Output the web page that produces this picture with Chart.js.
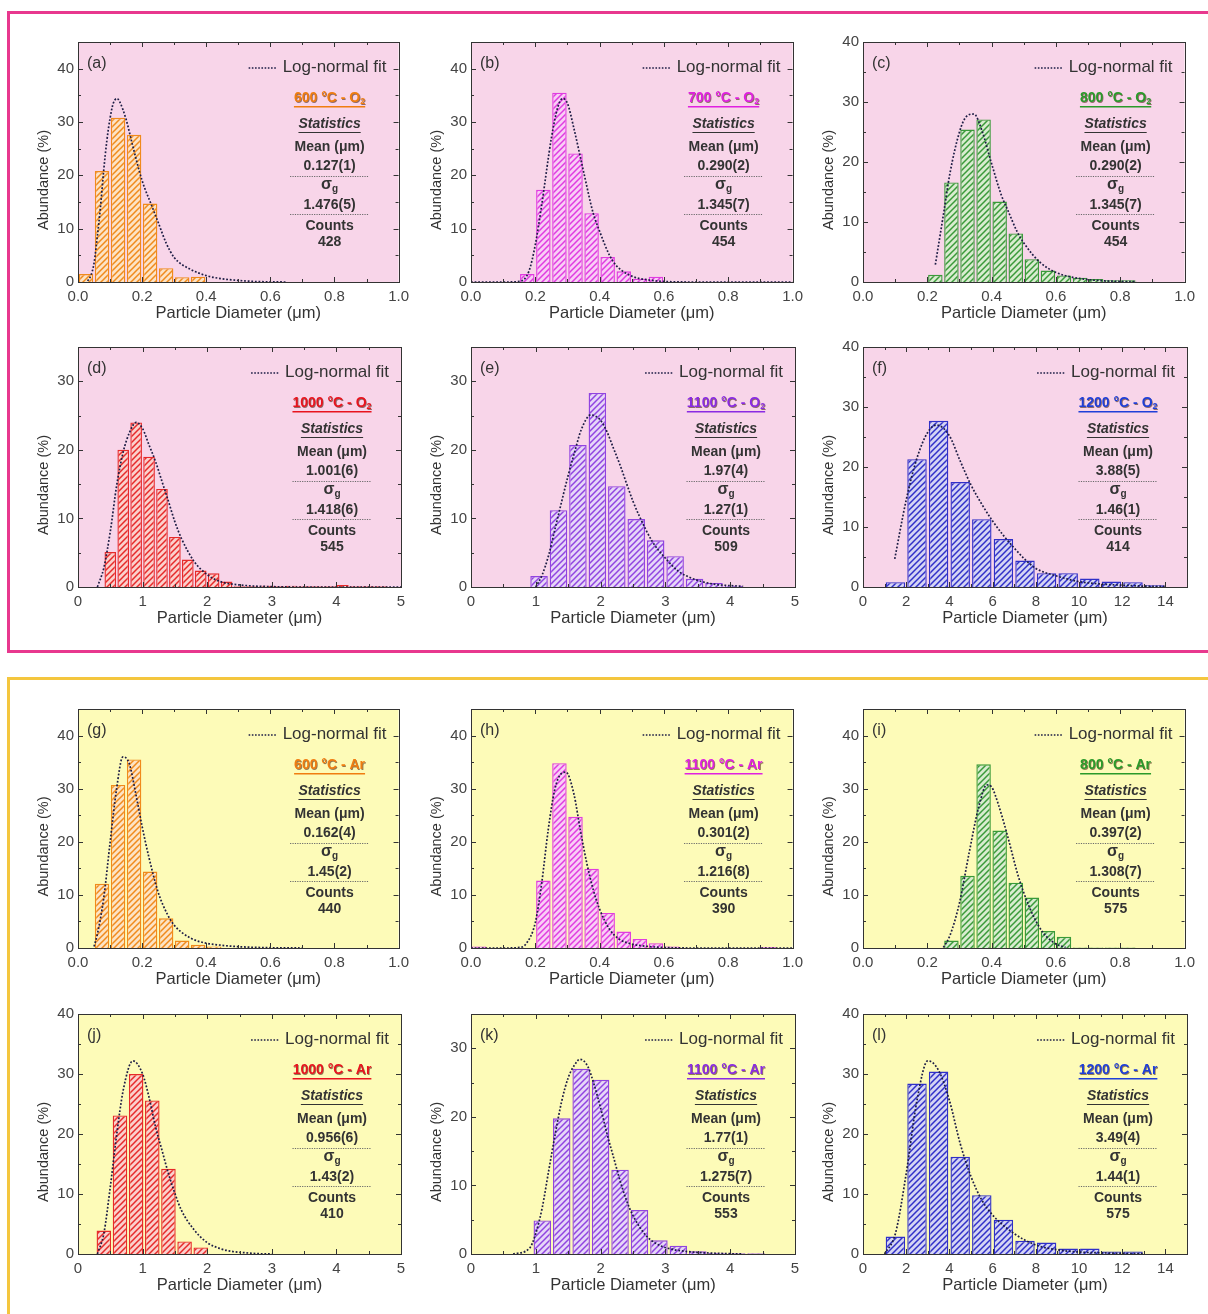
<!DOCTYPE html>
<html>
<head>
<meta charset="utf-8">
<title>Particle size distributions</title>
<style>
  html, body { margin: 0; padding: 0; background: #fff; width: 1208px; height: 1314px; overflow: hidden; position: relative; }
  .frame { position: absolute; box-sizing: border-box; }
  #frameO2 { left: 7px; top: 11px; width: 1230px; height: 642px; border: 3px solid #e8388e; }
  #frameAr { left: 7px; top: 677px; width: 1230px; height: 700px; border: 3px solid #f4c63e; }
  canvas { position: absolute; }
</style>
</head>
<body>
<div id="frameO2" class="frame"></div>
<div id="frameAr" class="frame"></div>
<script src="https://cdn.jsdelivr.net/npm/chart.js@4.4.1/dist/chart.umd.min.js"></script>
<script>
const FONT = "'Liberation Sans', Arial, Helvetica, sans-serif";
Chart.defaults.font.family = FONT;

// ---------- (a) 600 °C - O2 ----------
const binsA  = [0.025, 0.075, 0.125, 0.175, 0.225, 0.275, 0.325, 0.375];
const abundA = [1.5, 20.8, 30.8, 27.6, 14.7, 2.6, 0.9, 1.0];
const fitXA  = [0.03, 0.04, 0.05, 0.06, 0.07, 0.08, 0.09, 0.10, 0.11, 0.122, 0.13, 0.15, 0.17, 0.20, 0.23, 0.25, 0.275, 0.30, 0.35, 0.40, 0.45, 0.50, 0.55, 0.60, 0.65];
const fitYA  = [0.2, 1.2, 3.5, 8.4, 14.0, 20.8, 26.5, 30.7, 33.5, 34.4, 33.8, 30.5, 25.7, 19.0, 14.3, 11.2, 7.3, 4.6, 2.4, 1.2, 0.6, 0.3, 0.1, 0.03, 0];

// ---------- (b) 700 °C - O2 ----------
const binsB  = [0.175, 0.225, 0.275, 0.325, 0.375, 0.425, 0.475, 0.525, 0.575];
const abundB = [1.5, 17.3, 35.5, 24.1, 12.9, 4.7, 2.0, 0.6, 1.0];
const fitXB  = [0.0, 0.10, 0.15, 0.18, 0.20, 0.22, 0.25, 0.27, 0.285, 0.30, 0.32, 0.35, 0.38, 0.40, 0.43, 0.45, 0.50, 0.55, 0.60, 0.70, 0.80, 0.90, 1.0];
const fitYB  = [0, 0, 0.1, 2.0, 7.0, 14.5, 27.0, 32.8, 34.4, 33.5, 28.8, 20.7, 12.9, 9.5, 5.1, 3.2, 1.1, 0.4, 0.1, 0, 0, 0, 0];

// ---------- (c) 800 °C - O2 ----------
const binsC  = [0.225, 0.275, 0.325, 0.375, 0.425, 0.475, 0.525, 0.575, 0.625, 0.675, 0.725, 0.775, 0.825];
const abundC = [1.2, 16.6, 25.4, 27.1, 13.4, 8.1, 3.8, 1.9, 1.1, 0.7, 0.5, 0.3, 0.3];
const fitXC  = [0.225, 0.25, 0.27, 0.30, 0.32, 0.345, 0.37, 0.40, 0.43, 0.45, 0.48, 0.50, 0.55, 0.60, 0.65, 0.70, 0.75, 0.80, 0.85];
const fitYC  = [2.9, 11.2, 18.0, 25.0, 27.5, 28.0, 25.2, 19.7, 14.5, 12.0, 8.3, 6.5, 3.3, 1.6, 0.8, 0.4, 0.2, 0.1, 0.05];

// ---------- (d) 1000 °C - O2 ----------
const binsD  = [0.5, 0.7, 0.9, 1.1, 1.3, 1.5, 1.7, 1.9, 2.1, 2.3, 2.5, 2.7, 2.9, 3.1, 3.3, 3.5, 3.7, 3.9, 4.1, 4.3, 4.5, 4.7];
const abundD = [5.1, 20.0, 24.0, 19.0, 14.3, 7.3, 4.0, 2.4, 2.0, 0.8, 0.1, 0.1, 0.2, 0.1, 0.2, 0.1, 0.1, 0.1, 0.3, 0.1, 0.1, 0.1];
const fitXD  = [0.3, 0.4, 0.5, 0.6, 0.7, 0.8, 0.9, 1.0, 1.1, 1.2, 1.3, 1.4, 1.5, 1.6, 1.8, 2.0, 2.2, 2.5, 3.0, 3.5, 4.0, 5.0];
const fitYD  = [0, 2.8, 8.1, 14.9, 19.7, 22.6, 24.0, 23.1, 20.7, 18.3, 15.4, 12.5, 9.5, 7.1, 3.7, 1.8, 0.8, 0.3, 0.05, 0, 0, 0];

// ---------- (e) 1100 °C - O2 ----------
const binsE  = [1.05, 1.35, 1.65, 1.95, 2.25, 2.55, 2.85, 3.15, 3.45, 3.75, 4.05];
const abundE = [1.6, 11.2, 20.7, 28.3, 14.7, 9.9, 6.8, 4.5, 1.2, 0.6, 0.2];
const fitXE  = [1.0, 1.1, 1.2, 1.3, 1.4, 1.5, 1.6, 1.7, 1.85, 2.0, 2.1, 2.2, 2.3, 2.4, 2.5, 2.6, 2.8, 3.0, 3.2, 3.4, 3.6, 3.8, 4.0, 4.2];
const fitYE  = [0, 1.8, 4.7, 8.6, 12.5, 16.3, 19.7, 22.9, 25.1, 24.3, 22.6, 20.2, 17.8, 15.1, 12.5, 10.3, 6.6, 4.2, 2.3, 1.3, 0.7, 0.35, 0.2, 0.1];

// ---------- (f) 1200 °C - O2 ----------
const binsF  = [1.5, 2.5, 3.5, 4.5, 5.5, 6.5, 7.5, 8.5, 9.5, 10.5, 11.5, 12.5, 13.5];
const abundF = [0.8, 21.3, 27.7, 17.5, 11.3, 8.0, 4.4, 2.3, 2.3, 1.4, 0.9, 0.8, 0.3];
const fitXF  = [1.47, 2.0, 2.5, 3.0, 3.4, 4.0, 4.5, 5.0, 5.5, 6.0, 6.5, 7.0, 7.5, 8.0, 9.0, 10.0, 11.0, 12.0, 13.0, 14.0];
const fitYF  = [4.7, 14.5, 21.5, 25.8, 27.0, 25.2, 21.0, 17.0, 13.8, 11.0, 8.6, 6.5, 4.6, 3.1, 1.8, 0.9, 0.5, 0.3, 0.15, 0.1];

// ---------- (g) 600 °C - Ar ----------
const binsG  = [0.075, 0.125, 0.175, 0.225, 0.275, 0.325, 0.375, 0.425];
const abundG = [12.1, 30.7, 35.5, 14.4, 5.6, 1.4, 0.6, 0.3];
const fitXG  = [0.05, 0.06, 0.08, 0.10, 0.12, 0.14, 0.16, 0.18, 0.20, 0.22, 0.25, 0.28, 0.30, 0.35, 0.40, 0.45, 0.50, 0.60, 0.70];
const fitYG  = [0.3, 2.5, 9.3, 19.8, 29.8, 36.0, 34.7, 29.1, 22.9, 17.4, 10.5, 6.2, 4.3, 1.9, 0.9, 0.5, 0.25, 0.05, 0];

// ---------- (h) 1100 °C - Ar ----------
const binsH  = [0.025, 0.225, 0.275, 0.325, 0.375, 0.425, 0.475, 0.525, 0.575, 0.625, 0.925];
const abundH = [0.3, 12.7, 34.8, 24.7, 14.9, 6.6, 3.1, 1.7, 0.9, 0.3, 0.2];
const fitXH  = [0.0, 0.10, 0.15, 0.17, 0.20, 0.22, 0.24, 0.26, 0.28, 0.295, 0.32, 0.34, 0.36, 0.38, 0.40, 0.43, 0.46, 0.50, 0.55, 0.60, 0.70, 0.80, 0.90, 1.0];
const fitYH  = [0, 0, 0.1, 0.7, 4.8, 12.3, 22.2, 29.7, 32.8, 33.1, 29.0, 22.2, 16.0, 11.0, 7.3, 3.6, 1.7, 0.75, 0.3, 0.1, 0, 0, 0, 0];

// ---------- (i) 800 °C - Ar ----------
const binsI  = [0.275, 0.325, 0.375, 0.425, 0.475, 0.525, 0.575, 0.625, 0.675, 0.725, 0.775, 0.825];
const abundI = [1.4, 13.6, 34.6, 22.1, 12.3, 9.5, 3.2, 2.1, 0.1, 0.1, 0.1, 0.1];
const fitXI  = [0.25, 0.27, 0.30, 0.33, 0.36, 0.385, 0.40, 0.42, 0.45, 0.48, 0.50, 0.53, 0.56, 0.60, 0.63];
const fitYI  = [0.1, 2.3, 8.5, 17.9, 26.6, 30.7, 30.3, 27.2, 21.0, 14.1, 10.4, 6.0, 2.9, 0.75, 0.1];

// ---------- (j) 1000 °C - Ar ----------
const binsJ  = [0.4, 0.65, 0.9, 1.15, 1.4, 1.65, 1.9];
const abundJ = [3.9, 23.1, 30.0, 25.6, 14.2, 2.1, 1.1];
const fitXJ  = [0.3, 0.4, 0.5, 0.6, 0.7, 0.85, 1.0, 1.1, 1.2, 1.3, 1.4, 1.5, 1.6, 1.8, 2.0, 2.2, 2.4, 2.6, 2.8, 3.0];
const fitYJ  = [0, 3.4, 11.2, 20.0, 27.3, 32.2, 30.0, 26.1, 21.2, 17.3, 13.4, 10.1, 7.3, 4.0, 1.9, 0.9, 0.4, 0.2, 0.05, 0];

// ---------- (k) 1100 °C - Ar ----------
const binsK  = [1.1, 1.4, 1.7, 2.0, 2.3, 2.6, 2.9, 3.2, 3.5, 3.8, 4.1, 4.4];
const abundK = [4.9, 19.8, 27.0, 25.4, 12.3, 6.4, 2.0, 1.2, 0.4, 0.2, 0.1, 0.1];
const fitXK  = [0.65, 0.9, 1.0, 1.1, 1.2, 1.3, 1.4, 1.5, 1.6, 1.68, 1.8, 1.9, 2.0, 2.1, 2.2, 2.3, 2.4, 2.5, 2.7, 2.9, 3.1, 3.4, 3.8, 4.2];
const fitYK  = [0, 0.8, 3.0, 6.8, 12.2, 17.5, 22.3, 25.7, 27.6, 28.4, 27.4, 24.7, 21.3, 17.5, 14.1, 10.7, 7.8, 5.6, 2.7, 1.3, 0.7, 0.3, 0.1, 0];

// ---------- (l) 1200 °C - Ar ----------
const binsL  = [1.5, 2.5, 3.5, 4.5, 5.5, 6.5, 7.5, 8.5, 9.5, 10.5, 11.5, 12.5];
const abundL = [2.9, 28.4, 30.4, 16.2, 9.8, 5.7, 2.2, 1.9, 0.9, 0.9, 0.4, 0.4];
const fitXL  = [1.0, 1.5, 2.0, 2.5, 3.0, 3.5, 4.0, 4.5, 5.0, 5.5, 6.0, 7.0, 8.0, 9.0, 10.0, 11.0, 12.0, 13.0];
const fitYL  = [0, 3.4, 13.4, 25.6, 32.2, 30.6, 25.6, 18.4, 12.9, 9.0, 6.5, 3.4, 1.5, 0.7, 0.33, 0.2, 0.1, 0.05];

// statistics boxes: [mean, sigma_g, counts]
const statsA = ['0.127(1)', '1.476(5)', '428'];
const statsB = ['0.290(2)', '1.345(7)', '454'];
const statsC = ['0.290(2)', '1.345(7)', '454'];
const statsD = ['1.001(6)', '1.418(6)', '545'];
const statsE = ['1.97(4)',  '1.27(1)',  '509'];
const statsF = ['3.88(5)',  '1.46(1)',  '414'];
const statsG = ['0.162(4)', '1.45(2)',  '440'];
const statsH = ['0.301(2)', '1.216(8)', '390'];
const statsI = ['0.397(2)', '1.308(7)', '575'];
const statsJ = ['0.956(6)', '1.43(2)',  '410'];
const statsK = ['1.77(1)',  '1.275(7)', '553'];
const statsL = ['3.49(4)',  '1.44(1)',  '575'];

// x-axis ranges: [max, major step, decimals]
const axisSub  = [1, 0.2, 1];
const axisMid  = [5, 1, 0];
const axisWide = [15, 2, 0];

// series palette: [line/border, pale hatch ground, title text]
const ORANGE = ['#f08a1c', '#fde3c4', '#f07d10'];
const MAGENTA = ['#e03ce0', '#f9cdf6', '#e020e0'];
const GREEN = ['#3a9a3a', '#d8eccf', '#2a9a2a'];
const RED = ['#e62a2a', '#fbd0cc', '#e8141e'];
const PURPLE = ['#9044e0', '#e6d6f8', '#8a2be2'];
const BLUE = ['#3030c8', '#d4d4f4', '#1f3fd8'];

const PINK_BG = '#f8d5e9';
const YELLOW_BG = '#fdfbb8';

const panels = [
  { tag: '(a)', col: 0, row: 0, bins: binsA, abund: abundA, fitX: fitXA, fitY: fitYA, axis: axisSub,  yMax: 45, pal: ORANGE,  cond: ['600 °C - O', '2'],  stats: statsA, bg: PINK_BG },
  { tag: '(b)', col: 1, row: 0, bins: binsB, abund: abundB, fitX: fitXB, fitY: fitYB, axis: axisSub,  yMax: 45, pal: MAGENTA, cond: ['700 °C - O', '2'],  stats: statsB, bg: PINK_BG },
  { tag: '(c)', col: 2, row: 0, bins: binsC, abund: abundC, fitX: fitXC, fitY: fitYC, axis: axisSub,  yMax: 40, pal: GREEN,   cond: ['800 °C - O', '2'],  stats: statsC, bg: PINK_BG },
  { tag: '(d)', col: 0, row: 1, bins: binsD, abund: abundD, fitX: fitXD, fitY: fitYD, axis: axisMid,  yMax: 35, pal: RED,     cond: ['1000 °C - O', '2'], stats: statsD, bg: PINK_BG },
  { tag: '(e)', col: 1, row: 1, bins: binsE, abund: abundE, fitX: fitXE, fitY: fitYE, axis: axisMid,  yMax: 35, pal: PURPLE,  cond: ['1100 °C - O', '2'], stats: statsE, bg: PINK_BG },
  { tag: '(f)', col: 2, row: 1, bins: binsF, abund: abundF, fitX: fitXF, fitY: fitYF, axis: axisWide, yMax: 40, pal: BLUE,    cond: ['1200 °C - O', '2'], stats: statsF, bg: PINK_BG },
  { tag: '(g)', col: 0, row: 2, bins: binsG, abund: abundG, fitX: fitXG, fitY: fitYG, axis: axisSub,  yMax: 45, pal: ORANGE,  cond: ['600 °C - Ar', ''],  stats: statsG, bg: YELLOW_BG },
  { tag: '(h)', col: 1, row: 2, bins: binsH, abund: abundH, fitX: fitXH, fitY: fitYH, axis: axisSub,  yMax: 45, pal: MAGENTA, cond: ['1100 °C - Ar', ''], stats: statsH, bg: YELLOW_BG },
  { tag: '(i)', col: 2, row: 2, bins: binsI, abund: abundI, fitX: fitXI, fitY: fitYI, axis: axisSub,  yMax: 45, pal: GREEN,   cond: ['800 °C - Ar', ''],  stats: statsI, bg: YELLOW_BG },
  { tag: '(j)', col: 0, row: 3, bins: binsJ, abund: abundJ, fitX: fitXJ, fitY: fitYJ, axis: axisMid,  yMax: 40, pal: RED,     cond: ['1000 °C - Ar', ''], stats: statsJ, bg: YELLOW_BG },
  { tag: '(k)', col: 1, row: 3, bins: binsK, abund: abundK, fitX: fitXK, fitY: fitYK, axis: axisMid,  yMax: 35, pal: PURPLE,  cond: ['1100 °C - Ar', ''], stats: statsK, bg: YELLOW_BG },
  { tag: '(l)', col: 2, row: 3, bins: binsL, abund: abundL, fitX: fitXL, fitY: fitYL, axis: axisWide, yMax: 40, pal: BLUE,    cond: ['1200 °C - Ar', ''], stats: statsL, bg: YELLOW_BG }
];

// plot-area grid on the page
const colLeft   = [78, 471, 863];
const colRight  = [401, 795, 1187];
const rowTop    = [41, 346, 708, 1013];
const rowBottom = [282, 587, 948, 1254];
const Y_AXIS_W = 60, X_AXIS_H = 44, PAD_T = 12, PAD_R = 14;

// diagonal "////" hatch on a pale ground
function hatch(line, ground) {
  const s = 6;
  const c = document.createElement('canvas');
  c.width = s; c.height = s;
  const g = c.getContext('2d');
  g.fillStyle = ground; g.fillRect(0, 0, s, s);
  g.strokeStyle = line; g.lineWidth = 1.5;
  g.beginPath();
  g.moveTo(-1, s + 1); g.lineTo(s + 1, -1);
  g.moveTo(-1, 1); g.lineTo(1, -1);
  g.moveTo(s - 1, s + 1); g.lineTo(s + 1, s - 1);
  g.stroke();
  return g.createPattern(c, 'repeat');
}

function tickSet(scale) {
  const majors = scale.ticks.map(t => t.value);
  const step = majors.length > 1 ? majors[1] - majors[0] : scale.max - scale.min;
  const minors = [];
  majors.forEach(v => { const m = v + step / 2; if (m < scale.max - 1e-9) minors.push(m); });
  return { majors, minors };
}

function centeredSub(ctx, main, sub, cx, y, mainFont, subFont, subDy) {
  ctx.font = mainFont; const w1 = ctx.measureText(main).width;
  ctx.font = subFont; const w2 = sub ? ctx.measureText(sub).width : 0;
  const x0 = cx - (w1 + w2) / 2;
  ctx.font = mainFont; ctx.fillText(main, x0, y);
  if (sub) { ctx.font = subFont; ctx.fillText(sub, x0 + w1, y + subDy); }
  return { x0, w: w1 + w2 };
}

function dottedRule(ctx, cx, y, w) {
  ctx.save();
  ctx.strokeStyle = '#6a6a6a'; ctx.lineWidth = 1; ctx.setLineDash([1.2, 1.2]);
  ctx.beginPath(); ctx.moveTo(cx - w / 2, y + 0.5); ctx.lineTo(cx + w / 2, y + 0.5); ctx.stroke();
  ctx.restore();
}

const panelDeco = {
  id: 'panelDeco',
  beforeDraw(chart, _args, o) {
    const { ctx, chartArea: a } = chart;
    ctx.save();
    ctx.fillStyle = o.bg;
    ctx.fillRect(a.left, a.top, a.right - a.left, a.bottom - a.top);
    ctx.restore();
  },
  afterDraw(chart, _args, o) {
    const { ctx, chartArea: a } = chart;
    const xs = chart.scales.x, ys = chart.scales.y;
    ctx.save();

    // frame and inward ticks on all four sides
    ctx.strokeStyle = '#333'; ctx.lineWidth = 1;
    ctx.strokeRect(Math.round(a.left) + 0.5, Math.round(a.top) + 0.5, Math.round(a.right - a.left), Math.round(a.bottom - a.top));
    const tx = tickSet(xs), ty = tickSet(ys);
    ctx.beginPath();
    const xt = (v, len) => { const p = Math.round(xs.getPixelForValue(v)) + 0.5;
      ctx.moveTo(p, a.bottom); ctx.lineTo(p, a.bottom - len); ctx.moveTo(p, a.top); ctx.lineTo(p, a.top + len); };
    const yt = (v, len) => { const p = Math.round(ys.getPixelForValue(v)) + 0.5;
      ctx.moveTo(a.left, p); ctx.lineTo(a.left + len, p); ctx.moveTo(a.right, p); ctx.lineTo(a.right - len, p); };
    tx.majors.forEach(v => xt(v, 5)); tx.minors.forEach(v => xt(v, 3));
    ty.majors.forEach(v => yt(v, 5)); ty.minors.forEach(v => yt(v, 3));
    ctx.stroke();

    // y-axis title
    ctx.save();
    ctx.translate(a.left - 34, (a.top + a.bottom) / 2 + 18);
    ctx.rotate(-Math.PI / 2);
    ctx.fillStyle = '#333'; ctx.font = `14.5px ${FONT}`;
    ctx.textAlign = 'center'; ctx.textBaseline = 'middle';
    ctx.fillText(o.yTitle, 0, 0);
    ctx.restore();

    ctx.textBaseline = 'middle';

    // panel tag
    ctx.fillStyle = '#333'; ctx.font = `16px ${FONT}`; ctx.textAlign = 'left';
    ctx.fillText(o.tag, a.left + 9, a.top + 22);

    // legend entry for the fit curve
    const fitSet = chart.data.datasets[0];
    ctx.font = `17px ${FONT}`; ctx.textAlign = 'right';
    const lx = a.right - 12, ly = a.top + 25;
    ctx.fillText(fitSet.label, lx, ly);
    const tl = lx - ctx.measureText(fitSet.label).width;
    ctx.save();
    ctx.strokeStyle = fitSet.borderColor; ctx.lineWidth = 1.7; ctx.setLineDash([1.6, 1.6]);
    ctx.beginPath(); ctx.moveTo(tl - 34, ly + 1); ctx.lineTo(tl - 6, ly + 1); ctx.stroke();
    ctx.restore();

    // statistics block
    ctx.textAlign = 'left';
    const cx = a.right - 69, t = a.top;
    ctx.save();
    ctx.shadowColor = 'rgba(60,20,0,0.55)'; ctx.shadowOffsetX = 0.8; ctx.shadowOffsetY = 0.8;
    ctx.fillStyle = o.titleColor;
    const ttl = centeredSub(ctx, o.cond[0], o.cond[1], cx, t + 56, `bold 14px ${FONT}`, `bold 9px ${FONT}`, 4);
    ctx.restore();
    ctx.fillStyle = o.titleColor;
    ctx.fillRect(ttl.x0, t + 64, ttl.w, 1.5);

    ctx.fillStyle = '#333';
    const st = centeredSub(ctx, 'Statistics', '', cx, t + 82, `italic bold 14px ${FONT}`, `bold 9px ${FONT}`, 0);
    ctx.fillRect(st.x0, t + 90, st.w, 1);

    centeredSub(ctx, 'Mean (μm)', '', cx, t + 105.5, `bold 14px ${FONT}`, `bold 9px ${FONT}`, 0);
    centeredSub(ctx, o.stats[0], '', cx, t + 124, `bold 14px ${FONT}`, `bold 9px ${FONT}`, 0);
    dottedRule(ctx, cx, t + 134, 79);
    centeredSub(ctx, 'σ', 'g', cx, t + 143, `bold 16px ${FONT}`, `bold 10px ${FONT}`, 4);
    centeredSub(ctx, o.stats[1], '', cx, t + 163, `bold 14px ${FONT}`, `bold 9px ${FONT}`, 0);
    dottedRule(ctx, cx, t + 172, 79);
    centeredSub(ctx, 'Counts', '', cx, t + 184, `bold 14px ${FONT}`, `bold 9px ${FONT}`, 0);
    centeredSub(ctx, o.stats[2], '', cx, t + 200.5, `bold 14px ${FONT}`, `bold 9px ${FONT}`, 0);

    ctx.restore();
  }
};

panels.forEach(p => {
  const left = colLeft[p.col], right = colRight[p.col];
  const top = rowTop[p.row], bottom = rowBottom[p.row];
  const W = Y_AXIS_W + (right - left) + PAD_R;
  const H = PAD_T + (bottom - top) + X_AXIS_H;
  const cv = document.createElement('canvas');
  cv.width = W; cv.height = H;
  cv.style.left = (left - Y_AXIS_W) + 'px';
  cv.style.top = (top - PAD_T) + 'px';
  cv.style.width = W + 'px';
  cv.style.height = H + 'px';
  document.body.appendChild(cv);

  const [xMax, xStep, xDec] = p.axis;
  new Chart(cv.getContext('2d'), {
    type: 'bar',
    data: {
      datasets: [
        {
          type: 'line',
          label: 'Log-normal fit',
          data: p.fitX.map((x, i) => ({ x, y: p.fitY[i] })),
          borderColor: '#1d1d45',
          borderWidth: 1.7,
          borderDash: [1.8, 1.8],
          pointRadius: 0,
          cubicInterpolationMode: 'monotone',
          fill: false,
          order: 0
        },
        {
          type: 'bar',
          label: 'Abundance',
          data: p.bins.map((x, i) => ({ x, y: p.abund[i] })),
          backgroundColor: hatch(p.pal[0], p.pal[1]),
          borderColor: p.pal[0],
          borderWidth: 1.4,
          borderSkipped: 'start',
          barPercentage: 0.9,
          categoryPercentage: 1,
          order: 1
        }
      ]
    },
    options: {
      responsive: false,
      animation: false,
      events: [],
      devicePixelRatio: 1,
      layout: { padding: { left: 0, right: PAD_R, top: PAD_T, bottom: 0 } },
      plugins: {
        legend: { display: false },
        tooltip: { enabled: false },
        panelDeco: {
          bg: p.bg, tag: p.tag, cond: p.cond, stats: p.stats,
          titleColor: p.pal[2], yTitle: 'Abundance (%)'
        }
      },
      scales: {
        x: {
          type: 'linear', min: 0, max: xMax, offset: false,
          grid: { display: false, drawTicks: false }, border: { display: false },
          ticks: {
            stepSize: xStep, includeBounds: false, autoSkip: false, maxRotation: 0,
            padding: 6, color: '#444', font: { size: 15 },
            callback: v => Number(v).toFixed(xDec)
          },
          title: { display: true, text: 'Particle Diameter (μm)', color: '#333', font: { size: 16.5 }, padding: { top: 0, bottom: 3 } },
          afterFit(s) { s.height = X_AXIS_H; }
        },
        y: {
          min: 0, max: p.yMax,
          grid: { display: false, drawTicks: false }, border: { display: false },
          ticks: { stepSize: 10, includeBounds: false, padding: 4, color: '#444', font: { size: 15 } },
          afterFit(s) { s.width = Y_AXIS_W; }
        }
      }
    },
    plugins: [panelDeco]
  });
});
</script>
</body>
</html>
